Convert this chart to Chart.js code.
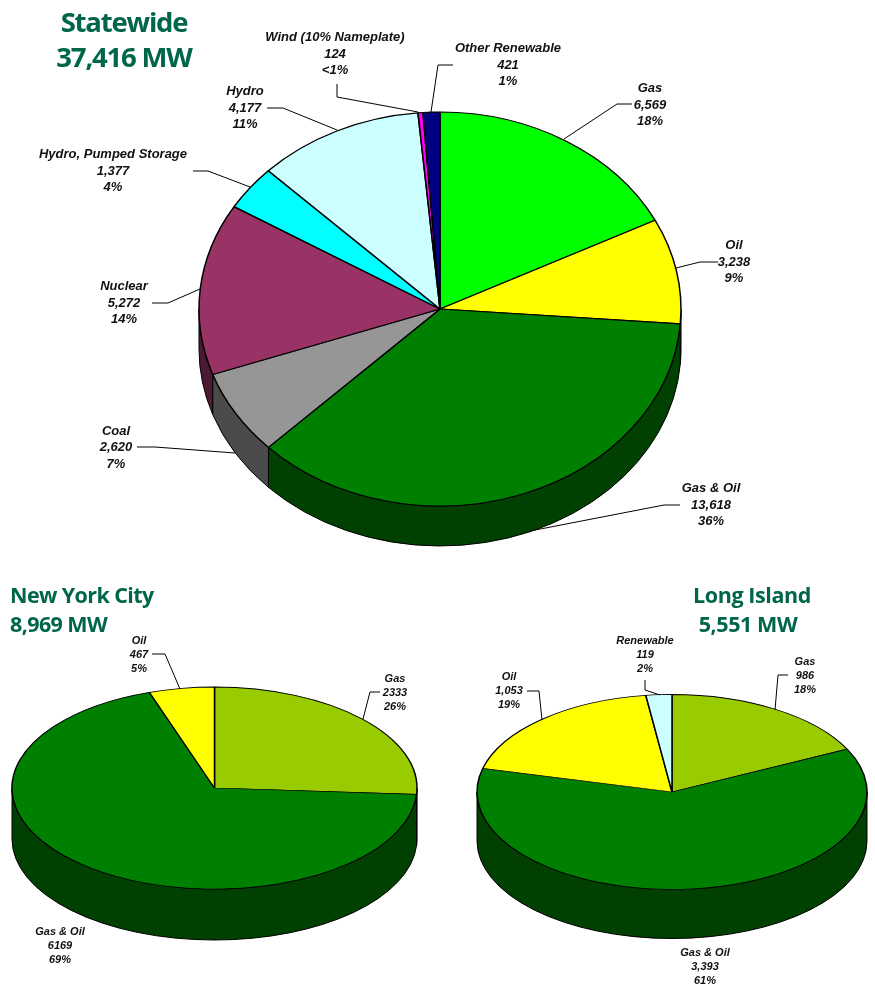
<!DOCTYPE html>
<html>
<head>
<meta charset="utf-8">
<style>
html,body{margin:0;padding:0;background:#fff;width:875px;height:986px;overflow:hidden}
canvas{position:absolute;left:0;top:0}
</style>
<script src="https://cdn.jsdelivr.net/npm/chart.js@4"></script>
</head>
<body>
<canvas id="state" width="875" height="986"></canvas>
<canvas id="nyc" width="875" height="986"></canvas>
<canvas id="li" width="875" height="986"></canvas>
<script>
// ---------- data ----------
const stateCategories = ['Gas','Oil','Gas & Oil','Coal','Nuclear','Hydro, Pumped Storage','Hydro','Wind (10% Nameplate)','Other Renewable'];
const stateValues     = [6569,3238,13618,2620,5272,1377,4177,124,421];
const stateValueText  = ['6,569','3,238','13,618','2,620','5,272','1,377','4,177','124','421'];
const statePctText    = ['18%','9%','36%','7%','14%','4%','11%','<1%','1%'];
const stateTitle      = ['Statewide','37,416 MW'];

const nycCategories = ['Gas','Gas & Oil','Oil'];
const nycValues     = [2333,6169,467];
const nycValueText  = ['2333','6169','467'];
const nycPctText    = ['26%','69%','5%'];
const nycTitle      = ['New York City','8,969 MW'];

const liCategories = ['Gas','Gas & Oil','Oil','Renewable'];
const liValues     = [986,3393,1053,119];
const liValueText  = ['986','3,393','1,053','119'];
const liPctText    = ['18%','61%','19%','2%'];
const liTitle      = ['Long Island','5,551 MW'];

// ---------- styling ----------
const stateColors = ['#00ff00','#ffff00','#008000','#969696','#993366','#00ffff','#ccffff','#ff00ff','#000080'];
const stateWalls  = ['#008000','#808000','#004000','#4b4b4b','#4d1a33','#008080','#666680','#800080','#000040'];
const nycColors   = ['#99cc00','#008000','#ffff00'];
const nycWalls    = ['#4d6600','#004000','#808000'];
const liColors    = ['#99cc00','#008000','#ffff00','#ccffff'];
const liWalls     = ['#4d6600','#004000','#808000','#668080'];

const TITLE_COLOR = '#00664a';
const LEADER = '#000';

const geomState = {cx:440, cy:309, rx:241, ry:197, depth:40};
const geomNyc   = {cx:214.5, cy:788, rx:202.5, ry:101, depth:51};
const geomLi    = {cx:672, cy:792, rx:195, ry:97.5, depth:49};

// label placement: centre x, first line y
const statePlace = [[650,88.5],[734,245.5],[711,488.5],[116,431],[124,286.5],[113,154.5],[245,91.5],[335,37.5],[508,48.5]];
const nycPlace   = [[395,678.5],[60,931.5],[139,640.5]];
const liPlace    = [[805,661.5],[705,952.5],[509,676.5],[645,640.5]];

const stateLeaders = [
  [[632,104],[617,104],[564,139]],
  [[718,262],[700,262],[676,268]],
  [[680,505],[664,505],[530,531]],
  [[137,447],[155,447],[235,453]],
  [[152,303],[168,303],[200,289]],
  [[193,171],[208,171],[250,187]],
  [[267,108],[283,108],[337,130]],
  [[337,84],[337,97],[418,112]],
  [[453,65],[438,65],[431,112]]
];
const nycLeaders = [
  [[380,692],[370,692],[363,719]],
  [],
  [[152,654],[165,654],[180,689]]
];
const liLeaders = [
  [[788,675],[778,675],[775,710]],
  [],
  [[527,691],[539,691],[542,720]],
  [[645,680],[645,690],[660,695]]
];

function pieChart(id, geom, cats, vals, colors, walls, valText, pctText, place, leaders, title, style){
  const W = 875;
  const pseudo3d = {
    id:'pseudo3d',
    beforeDatasetsDraw(chart){
      const ctx = chart.ctx, arcs = chart.getDatasetMeta(0).data;
      const {cx,cy,rx,ry,depth} = geom;
      ctx.save();
      ctx.strokeStyle = '#000';
      ctx.lineWidth = 1;
      arcs.forEach((arc,i)=>{
        const a = Math.max(arc.startAngle,0), b = Math.min(arc.endAngle,Math.PI);
        if(a >= b) return;
        ctx.beginPath();
        ctx.ellipse(cx,cy,rx,ry,0,a,b);
        ctx.lineTo(cx+rx*Math.cos(b), cy+depth+ry*Math.sin(b));
        ctx.ellipse(cx,cy+depth,rx,ry,0,b,a,true);
        ctx.closePath();
        ctx.fillStyle = walls[i];
        ctx.fill();
        ctx.stroke();
      });
      ctx.restore();
      const first = arcs[0];
      ctx.save();
      ctx.translate(cx,cy);
      ctx.scale(rx/first.outerRadius, ry/first.outerRadius);
      ctx.translate(-first.x,-first.y);
    },
    afterDatasetsDraw(chart){
      const ctx = chart.ctx;
      ctx.restore();
      ctx.save();
      // leader lines
      ctx.strokeStyle = LEADER;
      ctx.lineWidth = 1;
      leaders.forEach(l=>{
        if(!l.length) return;
        ctx.beginPath();
        l.forEach((p,j)=> j ? ctx.lineTo(p[0],p[1]) : ctx.moveTo(p[0],p[1]));
        ctx.stroke();
      });
      // data labels
      ctx.fillStyle = '#111';
      ctx.textAlign = 'center';
      ctx.textBaseline = 'middle';
      ctx.font = style.labelFont;
      cats.forEach((c,i)=>{
        const [x,y] = place[i];
        ctx.fillText(c,x,y);
        ctx.fillText(valText[i],x,y+style.step);
        ctx.fillText(pctText[i],x,y+2*style.step);
      });
      // title
      ctx.fillStyle = TITLE_COLOR;
      ctx.font = style.titleFont;
      ctx.letterSpacing = style.titleSpacing;
      ctx.textBaseline = 'alphabetic';
      ctx.textAlign = style.titleAlign;
      title.forEach((t,i)=> ctx.fillText(t, style.titleX[i], style.titleY[i]));
      ctx.restore();
    }
  };
  return new Chart(document.getElementById(id),{
    type:'pie',
    data:{labels:cats,datasets:[{data:vals,backgroundColor:colors,borderColor:'#000',borderWidth:1.5,clip:false}]},
    options:{
      responsive:false,
      animation:false,
      rotation:0,
      events:[],
      layout:{padding:{left:(W-2*geom.rx)/2,right:(W-2*geom.rx)/2,top:0,bottom:0}},
      plugins:{legend:{display:false},tooltip:{enabled:false}}
    },
    plugins:[pseudo3d]
  });
}

const bigStyle = {labelFont:'italic bold 13px "Liberation Sans"',step:16.5,titleFont:'700 27.5px "Open Sans"',titleSpacing:'-1.2px',titleAlign:'center',titleX:[124,124],titleY:[31.5,67]};
const nycStyle = {labelFont:'italic bold 11px "Liberation Sans"',step:14,titleFont:'700 21.5px "Open Sans"',titleSpacing:'-0.6px',titleAlign:'left',titleX:[10,10],titleY:[603,632]};
const liStyle  = {labelFont:'italic bold 11px "Liberation Sans"',step:14,titleFont:'700 21.5px "Open Sans"',titleSpacing:'-0.4px',titleAlign:'center',titleX:[752,748],titleY:[603,632]};

pieChart('state',geomState,stateCategories,stateValues,stateColors,stateWalls,stateValueText,statePctText,statePlace,stateLeaders,stateTitle,bigStyle);
pieChart('nyc',geomNyc,nycCategories,nycValues,nycColors,nycWalls,nycValueText,nycPctText,nycPlace,nycLeaders,nycTitle,nycStyle);
pieChart('li',geomLi,liCategories,liValues,liColors,liWalls,liValueText,liPctText,liPlace,liLeaders,liTitle,liStyle);
</script>
</body>
</html>
